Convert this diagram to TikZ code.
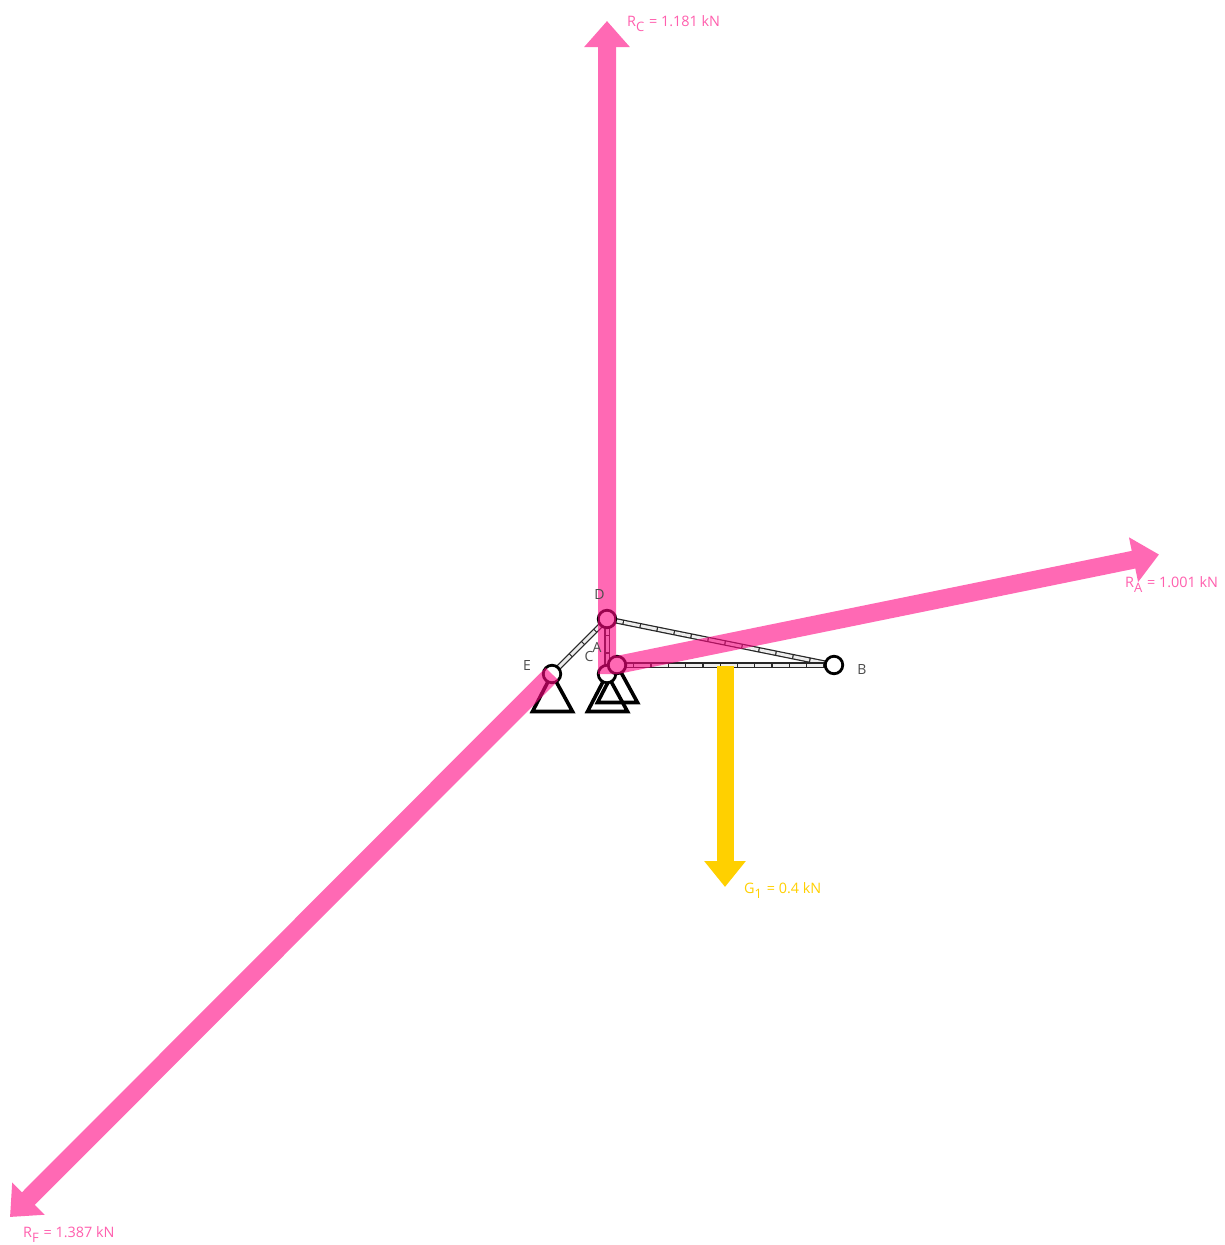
\documentclass[tikz,border=0pt]{standalone}
\usepackage{fontspec}
\setmainfont{Open Sans}
\usetikzlibrary{arrows.meta}
\definecolor{reactionC}{HTML}{FF0582}
\definecolor{reactionT}{HTML}{FF5FAE}
\definecolor{loadC}{HTML}{FFD000}
\tikzset{
  x=1pt,y=-1pt,
  joint/.style={circle,draw=black,fill=white,line width=2.8pt,minimum size=17.5pt,inner sep=0pt},
  memberbase/.style={draw=black!85,line width=5.5pt},
  memberfill/.style={draw=white!93!black,line width=3pt,dash pattern=on 16pt off 1.3pt},
  support/.style={draw=black,line width=3.6pt,miter limit=10,line join=miter},
  reaction/.style={draw=reactionC,line width=18pt,-{Triangle[length=26pt,width=44pt,fill=reactionC]}},
  gravity/.style={draw=loadC,line width=17pt,-{Triangle[length=26pt,width=40pt,fill=loadC]}},
  jlabel/.style={text=black!70,font=\fontsize{14}{16}\selectfont,inner sep=0pt},
  rlabel/.style={text=reactionT,font=\fontsize{14.4}{16}\selectfont,inner sep=0pt,anchor=base west},
  glabel/.style={text=loadC,font=\fontsize{14.4}{16}\selectfont,inner sep=0pt,anchor=base west}
}
\newcommand{\subdrop}[1]{\raisebox{-5pt}{\fontsize{13}{13}\selectfont #1}\hspace{1pt}}
\begin{document}
\begin{tikzpicture}
\useasboundingbox[fill=white] (0,0) rectangle (1224,1245);
% supports
\draw[support] (552,674) -- (532.5,711.5) -- (572.5,711.5) -- cycle;
\draw[support] (607,674) -- (587.5,711.5) -- (627.5,711.5) -- cycle;
\draw[support] (617,665) -- (597.5,702.5) -- (637.5,702.5) -- cycle;
% joints positions
\coordinate (Dp) at (607,619);
\coordinate (Ap) at (617,665);
\coordinate (Cp) at (607,674);
\coordinate (Ep) at (552,674);
\coordinate (Bp) at (834,665);
% members
\foreach \a/\b in {Dp/Ep,Dp/Cp,Dp/Bp,Ap/Bp}{
  \draw[memberbase] (\a) -- (\b);
  \draw[memberfill] (\a) -- (\b);
}
% joints
\node[joint] (E) at (Ep) {};
\node[joint] (C) at (Cp) {};
\node[joint] (A) at (Ap) {};
\node[joint] (D) at (Dp) {};
\node[joint] (B) at (Bp) {};
% load
\coordinate (Gs) at (725,666);
\coordinate (Gt) at (725,887);
\draw[gravity] (Gs) -- (Gt);
% reactions
\coordinate (RCt) at (607,21);
\coordinate (RAt) at (1159,554.5);
\coordinate (REt) at (10,1217);
\begin{scope}[transparency group,opacity=0.6]
\draw[reaction] (C.center) -- (RCt);
\draw[reaction,shorten <=-3pt] (A.center) -- (RAt);
\draw[reaction] (E.center) -- (REt);
\end{scope}
% labels
\node[jlabel] (lD) at (599.5,594) {D};
\node[jlabel] (lE) at (527,665) {E};
\node[jlabel] (lC) at (589,656.5) {C};
\node[jlabel] (lA) at (597,647.5) {A};
\node[jlabel] (lB) at (862,669.5) {B};
\node[rlabel] (lRC) at (627,26) {R\subdrop{C} = 1.181 kN};
\node[rlabel] (lRA) at (1125,587) {R\subdrop{A} = 1.001 kN};
\node[rlabel] (lRF) at (23,1237) {R\subdrop{F} = 1.387 kN};
\node[glabel] (lG) at (744,893) {G\subdrop{1} = 0.4 kN};
\end{tikzpicture}
\end{document}
